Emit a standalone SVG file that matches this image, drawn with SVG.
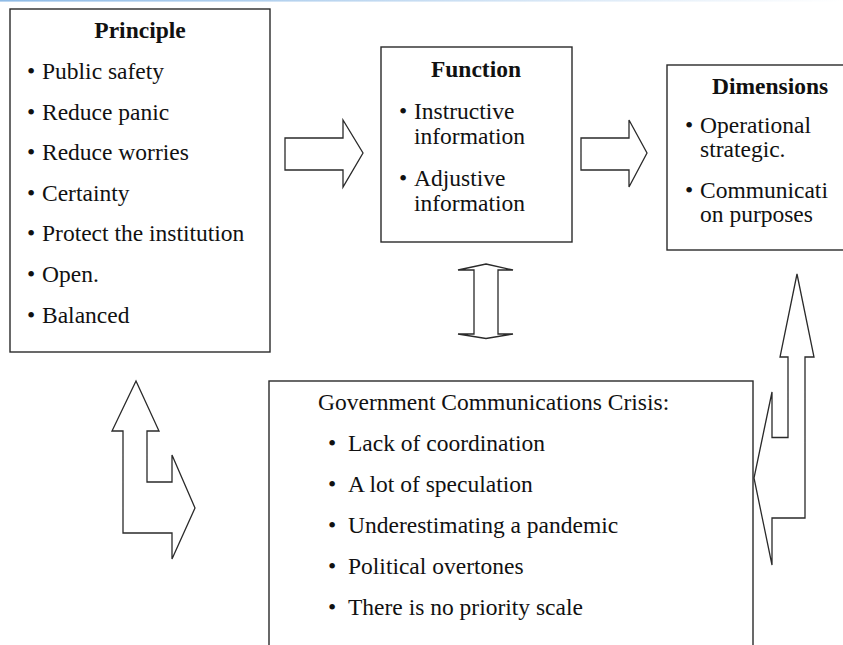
<svg xmlns="http://www.w3.org/2000/svg" width="843" height="645" viewBox="0 0 843 645">
<defs>
<linearGradient id="topline" x1="0" y1="0" x2="1" y2="0">
<stop offset="0" stop-color="#8fbbe6"/>
<stop offset="1" stop-color="#ffffff"/>
</linearGradient>
<style>
.box{fill:#fff;stroke:#2a2a2a;stroke-width:1.4}
.arr{fill:#fff;stroke:#2a2a2a;stroke-width:1.3;stroke-linejoin:miter}
text{font-size:23.5px;fill:#111}
.t{font-weight:bold;text-anchor:middle}
</style>
</defs>
<rect x="0" y="0" width="843" height="645" fill="#fff"/>
<rect x="0" y="0" width="843" height="1.6" fill="url(#topline)"/>
<g font-family="Liberation Serif, Times New Roman, Times, serif">
<g id="principle">
<rect class="box" x="10" y="9" width="260" height="343"/>
<text class="t" x="140" y="38">Principle</text>
<text y="79"><tspan x="27">•</tspan><tspan x="42">Public safety</tspan></text>
<text y="119.5"><tspan x="27">•</tspan><tspan x="42">Reduce panic</tspan></text>
<text y="160"><tspan x="27">•</tspan><tspan x="42">Reduce worries</tspan></text>
<text y="200.5"><tspan x="27">•</tspan><tspan x="42">Certainty</tspan></text>
<text y="241"><tspan x="27">•</tspan><tspan x="42">Protect the institution</tspan></text>
<text y="282"><tspan x="27">•</tspan><tspan x="42">Open.</tspan></text>
<text y="323"><tspan x="27">•</tspan><tspan x="42">Balanced</tspan></text>
</g>

<g id="function">
<rect class="box" x="381" y="47" width="191" height="195"/>
<text class="t" x="476" y="77">Function</text>
<text y="119"><tspan x="399">•</tspan><tspan x="414">Instructive</tspan></text>
<text x="414" y="143.5">information</text>
<text y="185.5"><tspan x="399">•</tspan><tspan x="414">Adjustive</tspan></text>
<text x="414" y="210.5">information</text>
</g>

<g id="dimensions">
<rect class="box" x="667" y="65" width="200" height="185"/>
<text x="712" y="93.5" font-weight="bold">Dimensions</text>
<text y="133"><tspan x="685">•</tspan><tspan x="700">Operational</tspan></text>
<text x="700" y="157">strategic.</text>
<text y="198"><tspan x="685">•</tspan><tspan x="700">Communicati</tspan></text>
<text x="700" y="222">on purposes</text>
</g>

<g id="crisis">
<rect class="box" x="269" y="381" width="484" height="290"/>
<text x="318" y="409.5">Government Communications Crisis:</text>
<text y="451"><tspan x="328">•</tspan><tspan x="348">Lack of coordination</tspan></text>
<text y="492"><tspan x="328">•</tspan><tspan x="348">A lot of speculation</tspan></text>
<text y="533"><tspan x="328">•</tspan><tspan x="348">Underestimating a pandemic</tspan></text>
<text y="574"><tspan x="328">•</tspan><tspan x="348">Political overtones</tspan></text>
<text y="615"><tspan x="328">•</tspan><tspan x="348">There is no priority scale</tspan></text>
</g>
</g>
<g id="connectors">
<polygon class="arr" points="285,138 343,138 343,120 363,153 343,187 343,170 285,170"/>
<polygon class="arr" points="581,138 629,138 629,120 647,153 629,187 629,170 581,170"/>
<polygon class="arr" points="486,264 513,270 498,270 498,334 513,334 486,338.5 458,334 474,334 474,270 458,270"/>
<polygon class="arr" points="136,381 159,431 147,431 147,482 172,482 172,455 195,508 172,559 172,533 123,533 123,431 112,431"/>
<polygon class="arr" points="797,274 814,357 805,357 805,518 772,518 772,565 754,478 772,392 772,437.5 788,437.5 788,357 780,357"/>
</g>
</svg>
